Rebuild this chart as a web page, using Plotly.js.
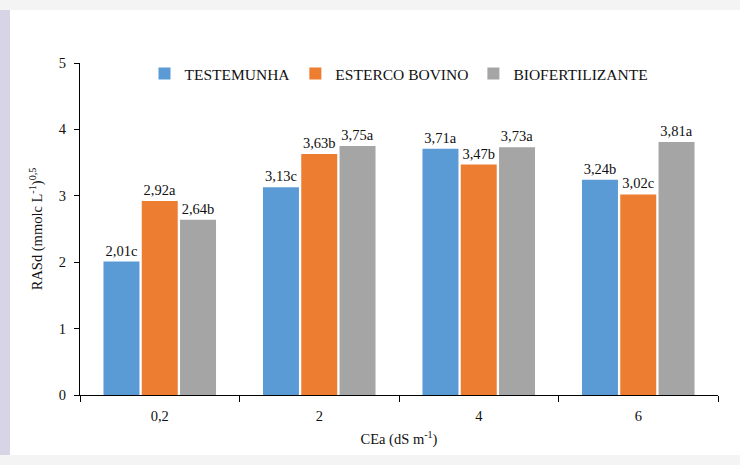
<!DOCTYPE html>
<html>
<head>
<meta charset="utf-8">
<script src="https://cdn.plot.ly/plotly-3.0.1.min.js"></script>
<style>
  html, body { margin: 0; padding: 0; background: #f4f4f4; width: 740px; height: 465px; overflow: hidden; }
  #strip { position: absolute; left: 0; top: 10px; width: 10px; height: 445px; background: #d6d4e5; }
  #chart { position: absolute; left: 10px; top: 10px; width: 730px; height: 445px; }
</style>
</head>
<body>
<div id="strip"></div>
<div id="chart"></div>
<script>
const categories = ['0,2', '2', '4', '6'];
const seriesNames = ['TESTEMUNHA', 'ESTERCO BOVINO', 'BIOFERTILIZANTE'];
const testemunha = [2.01, 3.13, 3.71, 3.24];
const esterco = [2.92, 3.63, 3.47, 3.02];
const biofert = [2.64, 3.75, 3.73, 3.81];
const lettersTestemunha = ['c', 'c', 'a', 'b'];
const lettersEsterco = ['a', 'b', 'b', 'c'];
const lettersBiofert = ['b', 'a', 'a', 'a'];
const colors = ['#5B9BD5', '#ED7D31', '#A5A5A5'];

const fontFam = 'Liberation Serif';
function lbl(vals, letters) {
  return vals.map((v, i) => v.toFixed(2).replace('.', ',') + letters[i]);
}
const seriesVals = [testemunha, esterco, biofert];
const seriesLetters = [lettersTestemunha, lettersEsterco, lettersBiofert];

const traces = seriesVals.map((vals, k) => ({
  type: 'bar',
  name: seriesNames[k],
  x: categories,
  y: vals,
  text: lbl(vals, seriesLetters[k]),
  textposition: 'outside',
  cliponaxis: false,
  textfont: { family: fontFam, size: 14.5, color: '#111' },
  marker: { color: colors[k], line: { width: 0 } },
  hoverinfo: 'skip'
}));

const layout = {
  width: 730,
  height: 445,
  margin: { l: 70, r: 22, t: 53, b: 60 },
  paper_bgcolor: '#ffffff',
  plot_bgcolor: '#ffffff',
  font: { family: fontFam, size: 14, color: '#111' },
  barmode: 'group',
  bargap: 0.28,
  bargroupgap: 0.06,
  showlegend: true,
  legend: {
    orientation: 'h',
    x: 0.5, xanchor: 'center',
    y: 0.967, yanchor: 'middle',
    font: { family: fontFam, size: 15.5, color: '#111' },
    itemwidth: 30,
    bgcolor: 'rgba(0,0,0,0)'
  },
  xaxis: {
    type: 'category',
    showline: true, linecolor: '#000', linewidth: 1,
    ticks: 'outside', tickson: 'boundaries', ticklen: 6, tickcolor: '#000',
    ticklabelstandoff: 8,
    showgrid: false, zeroline: false,
    tickfont: { family: fontFam, size: 14.5, color: '#111' },
    title: { text: 'CEa (dS m<sup>-1</sup>)', font: { family: fontFam, size: 14.5, color: '#111' }, standoff: 10 }
  },
  yaxis: {
    range: [0, 5], dtick: 1, tick0: 0,
    showline: true, linecolor: '#000', linewidth: 1,
    ticks: 'outside', ticklen: 5, tickcolor: '#000',
    ticklabelstandoff: 5,
    showgrid: false, zeroline: false,
    tickfont: { family: fontFam, size: 14.5, color: '#111' },
    title: { text: 'RASd (mmolc L<sup>-1</sup>)<sup>0,5</sup>', font: { family: fontFam, size: 14.5, color: '#111' }, standoff: 12 }
  }
};

Plotly.newPlot('chart', traces, layout, { displayModeBar: false, staticPlot: true });
</script>
</body>
</html>
